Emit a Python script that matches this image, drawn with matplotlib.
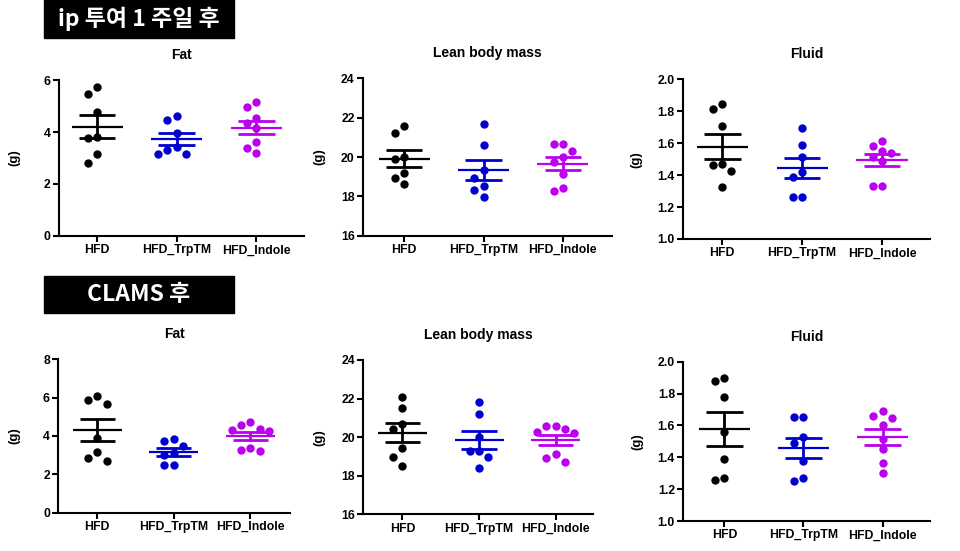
import numpy as np
import matplotlib
matplotlib.use('Agg')
import matplotlib.pyplot as plt
from matplotlib.patches import Rectangle

plt.rcParams['font.family'] = ['Liberation Sans', 'DejaVu Sans']
plt.rcParams['font.weight'] = 'bold'

groups = ['HFD', 'HFD_TrpTM', 'HFD_Indole']
colors = ['#000000', '#0000CC', '#BB00EE']

# ip 투여 1 주일 후
fat1_hfd = [5.72, 5.46, 4.78, 3.79, 3.77, 3.14, 2.79]
fat1_trp = [4.62, 4.46, 3.97, 3.44, 3.31, 3.14, 3.14]
fat1_ind = [5.17, 4.97, 4.53, 4.36, 4.14, 3.63, 3.37, 3.18]

lean1_hfd = [21.58, 21.20, 19.98, 19.90, 19.20, 18.92, 18.63]
lean1_trp = [21.68, 20.61, 19.34, 18.95, 18.54, 18.32, 17.98]
lean1_ind = [20.66, 20.66, 20.32, 19.98, 19.76, 19.12, 18.44, 18.29]

fluid1_hfd = [1.843, 1.812, 1.708, 1.470, 1.463, 1.426, 1.328]
fluid1_trp = [1.693, 1.589, 1.511, 1.422, 1.386, 1.261, 1.261]
fluid1_ind = [1.616, 1.582, 1.553, 1.541, 1.516, 1.491, 1.332, 1.332]

# CLAMS 후
fat2_hfd = [6.09, 5.88, 5.67, 3.91, 3.18, 2.83, 2.70]
fat2_trp = [3.84, 3.74, 3.50, 3.10, 3.01, 2.49, 2.49]
fat2_ind = [4.72, 4.57, 4.37, 4.31, 4.28, 3.36, 3.27, 3.22]

lean2_hfd = [22.07, 21.50, 20.67, 20.41, 19.42, 18.96, 18.52]
lean2_trp = [21.84, 21.18, 19.99, 19.28, 19.28, 18.96, 18.42]
lean2_ind = [20.59, 20.59, 20.42, 20.25, 20.20, 19.11, 18.94, 18.70]

fluid2_hfd = [1.900, 1.879, 1.776, 1.561, 1.387, 1.268, 1.257]
fluid2_trp = [1.651, 1.651, 1.525, 1.492, 1.379, 1.268, 1.251]
fluid2_ind = [1.692, 1.657, 1.645, 1.603, 1.513, 1.450, 1.362, 1.303]

W, H = 960, 551
fig = plt.figure(figsize=(W / 100, H / 100), dpi=100)


def box(l, t, r, b):
    return [l / W, 1 - b / H, (r - l) / W, (b - t) / H]


def swarm(vals, ypx, xpx, d=9.3, step=9.3):
    # simple beeswarm: offsets in data units
    order = np.argsort(vals)[::-1]
    placed = []
    offs = np.zeros(len(vals))
    for i in order:
        y = vals[i] * ypx
        for k in [0, -1, 1, -2, 2, -3, 3]:
            x = k * step
            if all(np.hypot(x - px, y - py) >= d - 0.01 for px, py in placed):
                break
        placed.append((x, y))
        offs[i] = x / xpx
    return offs


panels = [
    ('Fat', [fat1_hfd, fat1_trp, fat1_ind], (59, 80, 304, 236), (-0.48, 2.6), (0, 6), np.arange(0, 7, 2), 20),
    ('Lean body mass', [lean1_hfd, lean1_trp, lean1_ind], (363, 78.3, 612, 235.7), (-0.52, 2.62), (16, 24), np.arange(16, 25, 2), 325),
    ('Fluid', [fluid1_hfd, fluid1_trp, fluid1_ind], (683, 79.3, 930, 239), (-0.49, 2.6), (1.0, 2.0), np.arange(1.0, 2.01, 0.2), 642),
    ('Fat', [fat2_hfd, fat2_trp, fat2_ind], (58.3, 359.3, 290, 512.7), (-0.51, 2.52), (0, 8), np.arange(0, 9, 2), 20),
    ('Lean body mass', [lean2_hfd, lean2_trp, lean2_ind], (363.3, 360, 593.3, 514.3), (-0.51, 2.49), (16, 24), np.arange(16, 25, 2), 325),
    ('Fluid', [fluid2_hfd, fluid2_trp, fluid2_ind], (683.3, 361.7, 930, 521), (-0.52, 2.6), (1.0, 2.0), np.arange(1.0, 2.01, 0.2), 643),
]

for title, data, (l, t, r, b), xlim, ylim, yticks, labx in panels:
    ax = fig.add_axes(box(l, t, r, b))
    ypx = (b - t) / (ylim[1] - ylim[0])
    xpx = (r - l) / (xlim[1] - xlim[0])
    for i, vals in enumerate(data):
        vals = np.array(vals)
        c = colors[i]
        offs = swarm(vals, ypx, xpx)
        ax.plot(i + offs, vals, 'o', color=c, ms=5, mec=c, clip_on=False, zorder=3)
        m = vals.mean()
        sem = vals.std(ddof=1) / np.sqrt(len(vals))
        ax.hlines(m, i - 0.32, i + 0.32, color=c, lw=1.6, zorder=4)
        ax.vlines(i, m - sem, m + sem, color=c, lw=2, zorder=4)
        ax.hlines([m - sem, m + sem], i - 0.23, i + 0.23, color=c, lw=2, zorder=4)
    ax.set_xlim(*xlim)
    ax.set_ylim(*ylim)
    ax.set_xticks(range(3))
    ax.set_xticklabels(groups)
    ax.set_yticks(yticks)
    if ylim[1] <= 2:
        ax.set_yticklabels(['%.1f' % v for v in yticks])
    ax.spines['top'].set_visible(False)
    ax.spines['right'].set_visible(False)
    ax.spines['left'].set_linewidth(1.5)
    ax.spines['bottom'].set_linewidth(1.5)
    ax.tick_params(direction='out', length=4, width=1.5, labelsize=8.8, pad=2)
    ax.set_title(title, fontsize=10, fontweight='bold', pad=15)
    ax.set_ylabel('(g)', fontsize=9.5, fontweight='bold')
    ax.yaxis.set_label_coords((labx - l) / (r - l), 0.5)

# header boxes
for text, (l, t, r, b) in [('ip 투여 1 주일 후', (44, 0, 234, 38)),
                           ('CLAMS 후', (44, 276, 234, 313))]:
    fig.patches.append(Rectangle((l / W, 1 - b / H), (r - l) / W, (b - t) / H,
                                 transform=fig.transFigure, color='black', zorder=0))
    fig.text((l + r) / 2 / W, 1 - (t + b) / 2 / H, text, color='white', fontsize=16.5,
             fontweight='bold', ha='center', va='center',
             family=['Noto Sans CJK KR', 'DejaVu Sans'])

fig.savefig('out.png', dpi=100)
